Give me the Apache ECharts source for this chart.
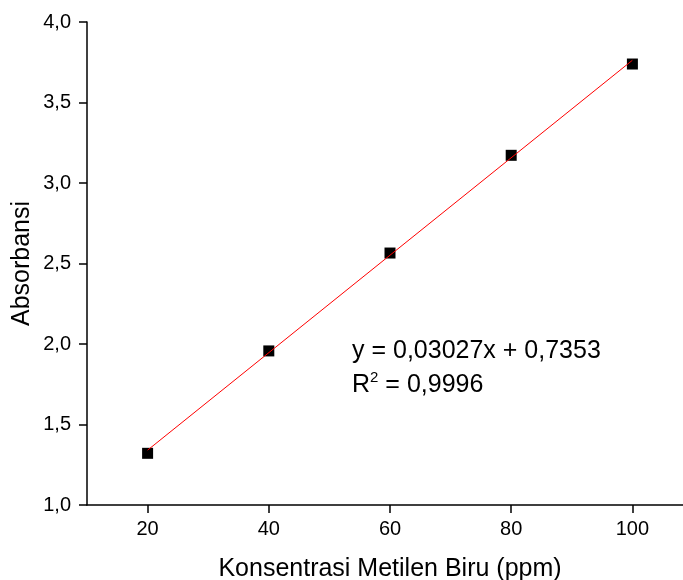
<!DOCTYPE html>
<html>
<head>
<meta charset="utf-8">
<script src="https://cdn.jsdelivr.net/npm/echarts@6/dist/echarts.min.js"></script>
<style>
html,body{margin:0;padding:0;background:#fff;}
#chart{width:683px;height:580px;}
</style>
</head>
<body>
<div id="chart"></div>
<script>
// Data
var concentrations = [20, 40, 60, 80, 100];
var absorbances = [1.321, 1.957, 2.565, 3.172, 3.739];
// Linear fit line endpoints (y = 0,03027x + 0,7353)
var fitX = [20, 100];
var fitY = [1.3407, 3.7623];
var xTicks = [20, 40, 60, 80, 100];
var yTicks = ['1,0', '1,5', '2,0', '2,5', '3,0', '3,5', '4,0'];
var equationText = 'y = 0,03027x + 0,7353';
var r2Text = '0,9996';

var FONT = '"Liberation Sans", Arial, Helvetica, sans-serif';
var chart = echarts.init(document.getElementById('chart'), null, {renderer: 'canvas'});

var scatterData = concentrations.map(function (x, i) { return [x, absorbances[i]]; });
var fitData = fitX.map(function (x, i) { return [x, fitY[i]]; });

chart.setOption({
  animation: false,
  backgroundColor: '#ffffff',
  grid: { left: 87, top: 22, right: -10, bottom: 75, containLabel: false, outerBoundsMode: 'none' },
  xAxis: {
    type: 'value', min: 10, max: 110, interval: 10,
    name: 'Konsentrasi Metilen Biru (ppm)',
    nameLocation: 'middle', nameGap: 52, nameMoveOverlap: false,
    nameTextStyle: { fontFamily: FONT, fontSize: 25, color: '#000' },
    axisLine: { show: true, onZero: false, lineStyle: { color: '#000', width: 1.5 } },
    axisTick: { show: true, inside: false, length: 8, lineStyle: { color: '#000', width: 1.5 },
      customValues: xTicks },
    axisLabel: { fontFamily: FONT, fontSize: 20, color: '#000', margin: 14,
      customValues: xTicks },
    splitLine: { show: false }
  },
  yAxis: {
    type: 'value', min: 1.0, max: 4.0, interval: 0.5,
    name: 'Absorbansi',
    nameLocation: 'middle', nameGap: 52, nameMoveOverlap: false,
    nameTextStyle: { fontFamily: FONT, fontSize: 25, color: '#000' },
    axisLine: { show: true, onZero: false, lineStyle: { color: '#000', width: 1.5 } },
    axisTick: { show: true, inside: false, length: 8, lineStyle: { color: '#000', width: 1.5 } },
    axisLabel: { fontFamily: FONT, fontSize: 20, color: '#000', margin: 16,
      formatter: function (v) { var i = Math.round((v - 1.0) / 0.5); return yTicks[i] !== undefined ? yTicks[i] : ''; } },
    splitLine: { show: false }
  },
  series: [
    {
      type: 'line', data: fitData, showSymbol: false, symbol: 'none',
      lineStyle: { color: '#ff0000', width: 1 }, z: 3, silent: true
    },
    {
      type: 'scatter', data: scatterData, symbol: 'rect', symbolSize: 11,
      itemStyle: { color: '#000000', opacity: 1 }, z: 2
    }
  ],
  graphic: [
    {
      type: 'text', left: 352, top: 339,
      style: { text: equationText, fontFamily: FONT, fontSize: 25, fill: '#000' }
    },
    {
      type: 'text', left: 352, top: 370,
      style: {
        text: '{b|R}{s|2}{b| = ' + r2Text + '}',
        rich: {
          b: { fontFamily: FONT, fontSize: 25, fill: '#000', color: '#000', verticalAlign: 'bottom', lineHeight: 28 },
          s: { fontFamily: FONT, fontSize: 15, fill: '#000', color: '#000', verticalAlign: 'top', lineHeight: 28 }
        }
      }
    }
  ]
});
</script>
</body>
</html>
